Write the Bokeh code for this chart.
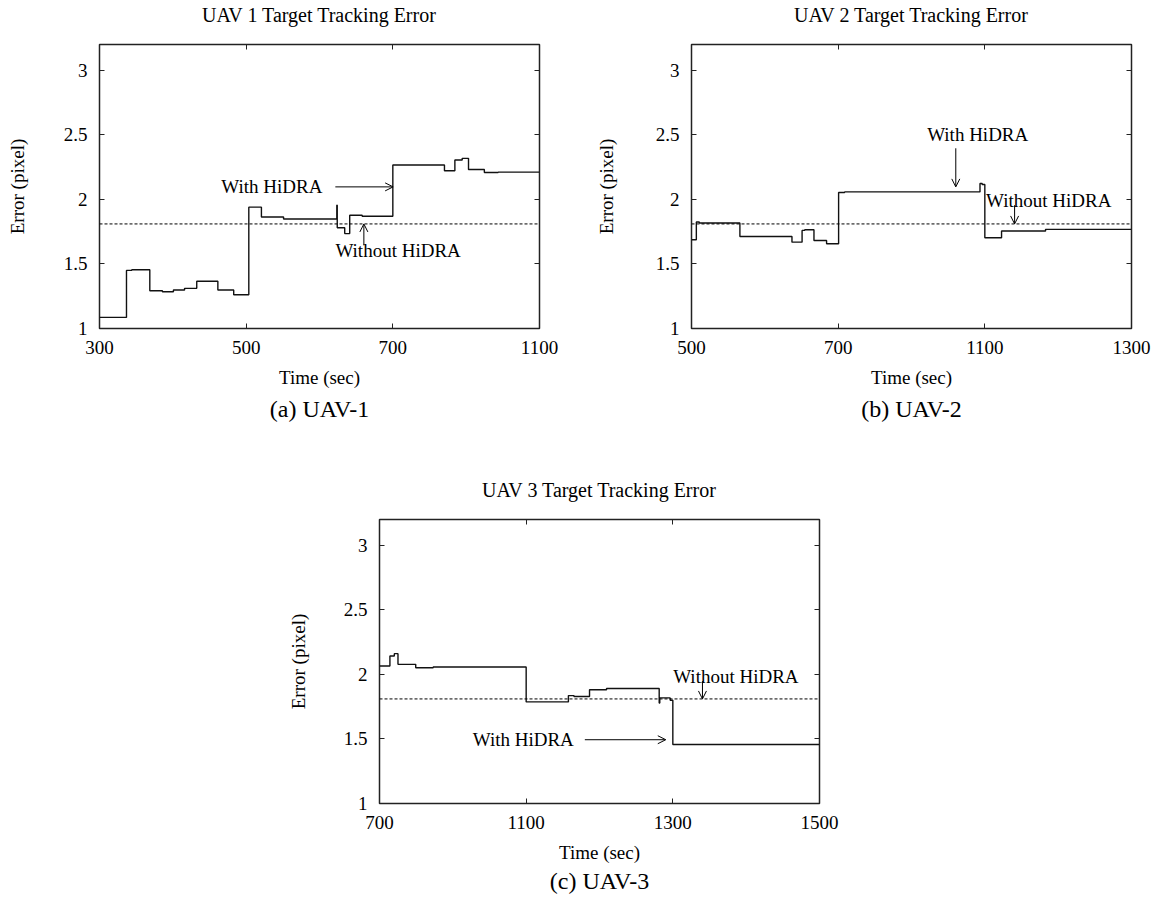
import numpy as np
from bokeh.plotting import figure
from bokeh.models import (FixedTicker, CustomJSTickFormatter, NumeralTickFormatter,
                          LinearAxis, Span, Arrow, OpenHead, Label, Title, Range1d, Spacer)
from bokeh.layouts import column, row
from bokeh.embed import file_html
from bokeh.resources import INLINE

FONT = "Liberation Serif"

# ---------------- data ----------------
y_ticks = [1, 1.5, 2, 2.5, 3]
baseline_error = 1.81  # "Without HiDRA"

# UAV 1
uav1_ticks = [300, 500, 700, 1100]
uav1_time = [300, 336.8, 344, 368.6, 385.8, 400.8, 416, 432.6, 461.4, 483, 503.6, 520.8,
             551, 623.6, 624.2, 634.4, 641.2, 658.2, 700, 840.8, 869.2, 889.2, 906.4,
             949.6, 987.2, 1100]
uav1_error = [1.086, 1.45, 1.455, 1.293, 1.285, 1.298, 1.311, 1.366, 1.298, 1.262, 1.94, 1.864,
              1.848, 1.955, 1.781, 1.735, 1.877, 1.869, 2.266, 2.222, 2.305, 2.318, 2.232,
              2.209, 2.211, 2.211]

# UAV 2
uav2_ticks = [500, 700, 1100, 1300]
uav2_time = [500, 506.6, 510.6, 566, 637, 650.8, 654.4, 667, 684.2, 701.2, 717.6, 1086.8,
             1092.8, 1100, 1122.8, 1182.8, 1300]
uav2_error = [1.687, 1.825, 1.817, 1.713, 1.669, 1.760, 1.765, 1.682, 1.656, 2.053, 2.058, 2.123,
              2.115, 1.703, 1.755, 1.768, 1.768]

# UAV 3
uav3_ticks = [700, 1100, 1300, 1500]
uav3_time = [700, 728.4, 740.4, 750.4, 798.8, 846.4, 1100, 1157.6, 1165.2, 1186.4, 1209.6,
             1281.4, 1282.2, 1296.4, 1300, 1500]
uav3_error = [2.065, 2.143, 2.161, 2.078, 2.052, 2.057, 1.787, 1.836, 1.829, 1.881, 1.891,
              1.779, 1.818, 1.80, 1.457, 1.457]

# annotations: (text x, text y, text align, arrow x0, y0, x1, y1)
uav1_with = [604, 2.097, "right", 621.6, 2.097, 700.8, 2.097]
uav1_without = [621.7, 1.605, "left", 660.5, 1.644, 660.5, 1.81]
uav2_with = [942.7, 2.50, "left", 1020.8, 2.396, 1020.8, 2.097]
uav2_without = [1101.6, 1.994, "left", 1140.6, 1.955, 1140.6, 1.81]
uav3_with = [1165, 1.494, "right", 1180, 1.494, 1290.4, 1.494]
uav3_without = [1300.5, 1.987, "left", 1340.4, 1.948, 1340.4, 1.81]


def make_panel(title, caption, ticks, times, errors, ann_with, ann_without,
               width, height, b_left, b_right, b_top, b_bottom, cap_standoff, ylab_standoff):
    pos_ticks = [0, 1, 2, 3]

    def tpos(t):
        return np.interp(np.asarray(t, dtype=float), ticks, pos_ticks)

    p = figure(width=width, height=height, output_backend="svg", toolbar_location=None,
               title=None,
               x_range=Range1d(0, 3), y_range=Range1d(1, 3.2),
               min_border_left=b_left, min_border_right=b_right,
               min_border_top=b_top, min_border_bottom=b_bottom)
    p.grid.visible = False
    p.outline_line_color = "#222222"
    p.outline_line_width = 1.5
    p.background_fill_color = "white"
    p.border_fill_color = "white"

    labels = {i: str(t) for i, t in enumerate(ticks)}
    xa = p.xaxis[0]
    xa.ticker = FixedTicker(ticks=pos_ticks)
    xa.major_label_overrides = labels
    ya = p.yaxis[0]
    ya.ticker = FixedTicker(ticks=y_ticks)
    ya.formatter = NumeralTickFormatter(format="0.[0]")
    for ax in (xa, ya):
        ax.major_tick_in = 5
        ax.major_tick_out = 0
        ax.minor_tick_line_color = None
        ax.axis_line_color = None
        ax.major_tick_line_color = "#222222"
        ax.major_label_text_font = FONT
        ax.major_label_text_font_size = "19px"
        ax.major_label_text_color = "black"
        ax.axis_label_text_font = FONT
        ax.axis_label_text_font_size = "19px"
        ax.axis_label_text_font_style = "normal"
        ax.axis_label_text_color = "black"
    xa.axis_label = "Time (sec)"
    xa.major_label_standoff = 12
    xa.axis_label_standoff = 10
    ya.axis_label = "Error (pixel)"
    ya.major_label_standoff = 12
    ya.axis_label_standoff = ylab_standoff

    # mirror ticks (top / right); the top one also carries the chart title
    empty = CustomJSTickFormatter(code="return ''")
    top = LinearAxis(ticker=FixedTicker(ticks=pos_ticks), formatter=empty)
    right = LinearAxis(ticker=FixedTicker(ticks=y_ticks), formatter=empty)
    for ax in (top, right):
        ax.major_tick_in = 5
        ax.major_tick_out = 0
        ax.minor_tick_line_color = None
        ax.axis_line_color = None
        ax.major_tick_line_color = "#222222"
        ax.major_label_text_font_size = "1px"
        ax.major_label_standoff = 0
    top.axis_label = title
    top.axis_label_text_font = FONT
    top.axis_label_text_font_size = "20px"
    top.axis_label_text_font_style = "normal"
    top.axis_label_text_color = "black"
    top.axis_label_standoff = 19
    p.add_layout(top, "above")
    p.add_layout(right, "right")

    cap = Title(text=caption, align="center", text_font=FONT, text_font_size="24px",
                text_font_style="normal", text_color="black", standoff=cap_standoff)
    p.add_layout(cap, "below")

    p.add_layout(Span(location=baseline_error, dimension="width", line_color="black",
                      line_width=1, line_dash="3 2"))

    p.step(tpos(times), errors, mode="after", line_color="#111111", line_width=1.4)

    for ann, txt in ((ann_with, "With HiDRA"), (ann_without, "Without HiDRA")):
        tx, ty, al, x0, y0, x1, y1 = ann
        p.add_layout(Label(x=float(tpos(tx)), y=ty, text=txt, text_align=al,
                           text_baseline="middle", text_font=FONT, text_font_size="19px",
                           text_color="black"))
        p.add_layout(Arrow(end=OpenHead(size=8, line_width=1, line_color="black"),
                           x_start=float(tpos(x0)), y_start=y0,
                           x_end=float(tpos(x1)), y_end=y1,
                           line_width=1, line_color="black"))
    return p


pa = make_panel("UAV 1 Target Tracking Error", "(a) UAV-1", uav1_ticks, uav1_time, uav1_error,
                uav1_with, uav1_without, 590, 440, 99, 51, 44, 112, 7, 33)
pb = make_panel("UAV 2 Target Tracking Error", "(b) UAV-2", uav2_ticks, uav2_time, uav2_error,
                uav2_with, uav2_without, 574, 440, 101, 33, 44, 112, 7, 36)
pc = make_panel("UAV 3 Target Tracking Error", "(c) UAV-3", uav3_ticks, uav3_time, uav3_error,
                uav3_with, uav3_without, 600, 464, 99, 61, 79, 101, 0, 32)

layout = column(row(pa, pb), row(Spacer(width=280, height=464), pc))

open("out.html", "w").write(file_html(layout, INLINE))
